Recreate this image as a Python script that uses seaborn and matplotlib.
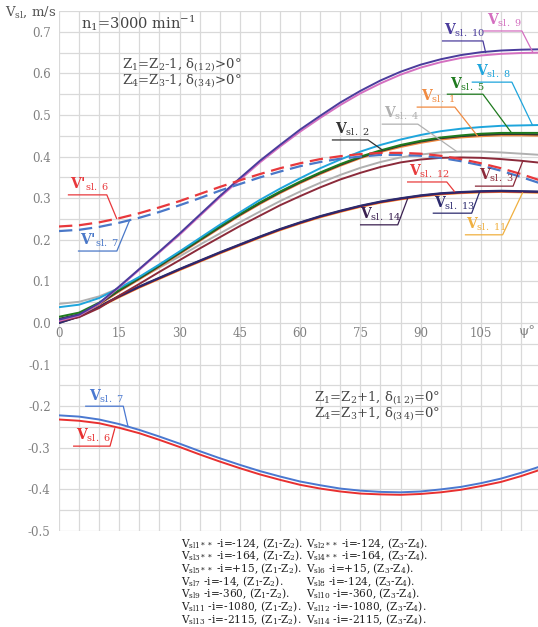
import numpy as np
import pandas as pd
import matplotlib
matplotlib.use("Agg")
import matplotlib.pyplot as plt
from matplotlib.ticker import MultipleLocator, FixedLocator
import seaborn as sns

# ---------------- data ----------------
psi = [0, 5, 10, 15, 20, 25, 30, 35, 40, 45, 50, 55, 60, 65, 70, 75, 80, 85, 90, 95, 100, 105, 110, 115, 120]

sl10 = [0.008, 0.020, 0.048, 0.088, 0.130, 0.172, 0.215, 0.260, 0.305, 0.348, 0.390, 0.428, 0.465, 0.498, 0.530, 0.558, 0.583, 0.604, 0.621, 0.634, 0.644, 0.651, 0.655, 0.657, 0.658]
sl9 = [0.005, 0.018, 0.046, 0.086, 0.128, 0.170, 0.212, 0.257, 0.302, 0.344, 0.386, 0.424, 0.460, 0.493, 0.524, 0.552, 0.576, 0.597, 0.614, 0.627, 0.637, 0.643, 0.647, 0.649, 0.650]
sl8 = [0.038, 0.044, 0.060, 0.084, 0.111, 0.141, 0.172, 0.204, 0.236, 0.266, 0.296, 0.323, 0.348, 0.372, 0.393, 0.412, 0.428, 0.441, 0.452, 0.461, 0.467, 0.471, 0.474, 0.475, 0.476]
sl5 = [0.015, 0.025, 0.049, 0.080, 0.109, 0.139, 0.170, 0.201, 0.232, 0.262, 0.290, 0.316, 0.340, 0.362, 0.382, 0.400, 0.415, 0.428, 0.438, 0.446, 0.451, 0.455, 0.457, 0.457, 0.457]
sl1 = [0.008, 0.019, 0.044, 0.076, 0.105, 0.135, 0.166, 0.197, 0.228, 0.258, 0.286, 0.312, 0.336, 0.358, 0.378, 0.396, 0.411, 0.423, 0.433, 0.441, 0.446, 0.449, 0.451, 0.451, 0.450]
sl2 = [0.010, 0.021, 0.046, 0.078, 0.107, 0.137, 0.168, 0.199, 0.230, 0.260, 0.288, 0.314, 0.338, 0.360, 0.380, 0.398, 0.413, 0.426, 0.436, 0.444, 0.449, 0.452, 0.454, 0.454, 0.453]
sl4 = [0.046, 0.051, 0.064, 0.084, 0.107, 0.133, 0.160, 0.188, 0.215, 0.242, 0.268, 0.293, 0.316, 0.337, 0.356, 0.373, 0.387, 0.398, 0.405, 0.410, 0.412, 0.412, 0.410, 0.407, 0.404]
sl3 = [0.005, 0.014, 0.036, 0.066, 0.094, 0.123, 0.151, 0.179, 0.206, 0.233, 0.258, 0.283, 0.305, 0.326, 0.345, 0.361, 0.375, 0.386, 0.393, 0.397, 0.398, 0.397, 0.394, 0.390, 0.385]
sl11 = [0.003, 0.016, 0.038, 0.062, 0.085, 0.106, 0.127, 0.147, 0.167, 0.186, 0.205, 0.223, 0.239, 0.254, 0.267, 0.279, 0.289, 0.297, 0.304, 0.309, 0.312, 0.314, 0.315, 0.314, 0.313]
sl12 = [0.002, 0.016, 0.039, 0.063, 0.086, 0.107, 0.128, 0.148, 0.168, 0.187, 0.206, 0.224, 0.240, 0.255, 0.268, 0.280, 0.290, 0.298, 0.305, 0.310, 0.313, 0.315, 0.316, 0.315, 0.314]
sl13 = [0.000, 0.016, 0.040, 0.065, 0.088, 0.109, 0.130, 0.150, 0.170, 0.189, 0.208, 0.226, 0.242, 0.257, 0.270, 0.282, 0.292, 0.300, 0.307, 0.312, 0.315, 0.317, 0.318, 0.317, 0.316]
sl14 = [0.000, 0.015, 0.039, 0.064, 0.087, 0.108, 0.129, 0.149, 0.169, 0.188, 0.207, 0.225, 0.241, 0.256, 0.269, 0.281, 0.291, 0.299, 0.306, 0.311, 0.314, 0.316, 0.317, 0.316, 0.315]
sl6_dash = [0.232, 0.235, 0.242, 0.252, 0.264, 0.278, 0.293, 0.310, 0.327, 0.343, 0.358, 0.372, 0.384, 0.394, 0.401, 0.406, 0.409, 0.409, 0.407, 0.402, 0.394, 0.384, 0.372, 0.358, 0.342]
sl7_dash = [0.221, 0.224, 0.231, 0.241, 0.253, 0.267, 0.283, 0.300, 0.318, 0.334, 0.350, 0.364, 0.377, 0.387, 0.395, 0.400, 0.404, 0.404, 0.402, 0.397, 0.389, 0.379, 0.366, 0.351, 0.335]
sl7_neg = [-0.222, -0.225, -0.232, -0.243, -0.257, -0.273, -0.290, -0.308, -0.325, -0.341, -0.356, -0.369, -0.381, -0.390, -0.398, -0.403, -0.406, -0.407, -0.405, -0.400, -0.394, -0.385, -0.374, -0.360, -0.344]
sl6_neg = [-0.232, -0.235, -0.241, -0.252, -0.265, -0.281, -0.298, -0.316, -0.333, -0.349, -0.364, -0.377, -0.389, -0.398, -0.405, -0.410, -0.412, -0.413, -0.411, -0.407, -0.401, -0.392, -0.382, -0.368, -0.352]

x_ticks = [0, 15, 30, 45, 60, 75, 90, 105]
y_ticks = [-0.5, -0.4, -0.3, -0.2, -0.1, 0.0, 0.1, 0.2, 0.3, 0.4, 0.5, 0.6, 0.7]

legend_left = [
    r"V$_{\rm sl1**}$ -i=-124, (Z$_1$-Z$_2$).",
    r"V$_{\rm sl3**}$ -i=-164, (Z$_1$-Z$_2$).",
    r"V$_{\rm sl5**}$ -i=+15, (Z$_1$-Z$_2$).",
    r"V$_{\rm sl7}$ -i=-14, (Z$_1$-Z$_2$).",
    r"V$_{\rm sl9}$ -i=-360, (Z$_1$-Z$_2$).",
    r"V$_{\rm sl11}$ -i=-1080, (Z$_1$-Z$_2$).",
    r"V$_{\rm sl13}$ -i=-2115, (Z$_1$-Z$_2$).",
]
legend_right = [
    r"V$_{\rm sl2**}$ -i=-124, (Z$_3$-Z$_4$).",
    r"V$_{\rm sl4**}$ -i=-164, (Z$_3$-Z$_4$).",
    r"V$_{\rm sl6}$ -i=+15, (Z$_3$-Z$_4$).",
    r"V$_{\rm sl8}$ -i=-124, (Z$_3$-Z$_4$).",
    r"V$_{\rm sl10}$ -i=-360, (Z$_3$-Z$_4$).",
    r"V$_{\rm sl12}$ -i=-1080, (Z$_3$-Z$_4$).",
    r"V$_{\rm sl14}$ -i=-2115, (Z$_3$-Z$_4$).",
]

# ---------------- style ----------------
sns.set_style("white")
plt.rcParams['font.family'] = ['DejaVu Serif', 'DejaVu Sans']
plt.rcParams['mathtext.fontset'] = 'dejavuserif'

fig = plt.figure(figsize=(5.38, 6.27), dpi=100)
ax = fig.add_axes([59/538, 96/627, 1 - 59/538, 520/627])

series = [
    (sl11, "#f0b040"),
    (sl12, "#e83c3c"),
    (sl14, "#3a2050"),
    (sl13, "#2c2a6e"),
    (sl3, "#8b2a3a"),
    (sl4, "#b0b0b0"),
    (sl1, "#f08a40"),
    (sl2, "#333333"),
    (sl5, "#1e7a1e"),
    (sl8, "#1ea5dc"),
    (sl9, "#d46fc0"),
    (sl10, "#4a3c9c"),
]
for vals, col in series:
    sns.lineplot(x=psi, y=vals, color=col, lw=1.4, ax=ax)

for vals, col in [(sl7_dash, "#4a78c8"), (sl6_dash, "#e8383c")]:
    sns.lineplot(x=psi, y=vals, color=col, lw=1.6, ax=ax)
    ax.lines[-1].set_dashes([6, 3])

sns.lineplot(x=psi, y=sl6_neg, color="#e83030", lw=1.4, ax=ax)
sns.lineplot(x=psi, y=sl7_neg, color="#4a78d0", lw=1.4, ax=ax)

ax.set_xlim(0, 119.2)
ax.set_ylim(-0.5, 0.75)
ax.xaxis.set_major_locator(FixedLocator(x_ticks))
ax.xaxis.set_minor_locator(MultipleLocator(5))
ax.yaxis.set_major_locator(FixedLocator(y_ticks))
ax.yaxis.set_minor_locator(MultipleLocator(0.05))
ax.set_yticklabels([f"{t:.1f}" for t in y_ticks])
ax.grid(True, which='both', color='#d9d9d9', lw=0.9)
ax.set_axisbelow(True)
for s in ax.spines.values():
    s.set_visible(False)
ax.spines['bottom'].set_position(('data', 0))
ax.tick_params(axis='both', which='both', length=0, labelsize=8.5, colors='#808080')
ax.tick_params(axis='x', pad=3)
ax.tick_params(axis='y', pad=6)
ax.set_xlabel("")
ax.set_ylabel("")
ax.text(116.3, -0.005, "ψ°", ha='center', va='top', fontsize=9.5, color='#808080')

fig.text(5/538, 1 - 12/627, r"V$_{\rm sl}$, m/s", ha='left', va='center', fontsize=9.5, color='#555555')

ax.text(5.5, 0.72, r"n$_1$=3000 min$^{-1}$", fontsize=10.5, color='#444444', va='center')
ax.text(15.8, 0.622, "Z$_1$=Z$_2$-1, δ$_{(1\\,2)}$>0°", fontsize=9.5, color='#444444', va='center')
ax.text(15.8, 0.582, "Z$_4$=Z$_3$-1, δ$_{(3\\,4)}$>0°", fontsize=9.5, color='#444444', va='center')
ax.text(63.5, -0.178, "Z$_1$=Z$_2$+1, δ$_{(1\\,2)}$=0°", fontsize=9.5, color='#444444', va='center')
ax.text(63.5, -0.217, "Z$_4$=Z$_3$+1, δ$_{(3\\,4)}$=0°", fontsize=9.5, color='#444444', va='center')


def lab(txt, col, x0, x1, y, xe, ye, bold_v=False):
    ax.plot([x0, x1, xe], [y, y, ye], color=col, lw=0.9, solid_capstyle='butt')
    ax.text((x0 + x1) / 2 + 0.5, y + 0.004, txt, color=col, ha='center', va='bottom', fontsize=10,
            fontweight='bold' if bold_v else 'normal')


def L(sub):
    return r"$\mathbf{V}_{\mathrm{sl.\ " + sub + r"}}$"


def LP(sub):
    return r"V'$_{\mathrm{sl.\ " + sub + r"}}$"


lab(L("10"), "#4a3c9c", 95.3, 105.5, 0.678, 106.2, 0.649)
lab(L("9"), "#d46fc0", 105.5, 115.2, 0.702, 117.9, 0.651)
lab(L("8"), "#1ea5dc", 102.7, 112.7, 0.579, 117.9, 0.474)
lab(L("5"), "#1e7a1e", 96.5, 105.5, 0.550, 112.7, 0.456)
lab(L("1"), "#f08a40", 89.0, 98.5, 0.519, 104.2, 0.449)
lab(L("4"), "#b0b0b0", 80.3, 89.3, 0.478, 99.0, 0.412)
lab(L("2"), "#333333", 67.9, 76.9, 0.440, 80.6, 0.415)
lab(L("12"), "#e83c3c", 86.6, 96.5, 0.339, 98.5, 0.315)
lab(L("3"), "#8b2a3a", 103.5, 113.0, 0.329, 115.4, 0.389)
lab(L("13"), "#2c2a6e", 93.0, 102.7, 0.264, 104.7, 0.316)
lab(L("14"), "#3a2050", 74.9, 84.3, 0.236, 86.8, 0.300)
lab(L("11"), "#f0b040", 101.0, 110.4, 0.212, 115.4, 0.314)
lab(LP("6"), "#e8383c", 2.2, 11.9, 0.308, 14.4, 0.250, bold_v=True)
lab(LP("7"), "#4a78c8", 4.7, 14.4, 0.173, 17.7, 0.250, bold_v=True)
lab(L("7"), "#4a78d0", 6.5, 16.0, -0.200, 17.2, -0.250)
lab(L("6"), "#e83030", 3.5, 12.7, -0.296, 13.9, -0.253)

y_top = 1 - 536/627
fig.text(181/538, y_top, "\n".join(legend_left), fontsize=7.6, color='#222222',
         va='top', ha='left', linespacing=0.82)
fig.text(306/538, y_top, "\n".join(legend_right), fontsize=7.6, color='#222222',
         va='top', ha='left', linespacing=0.82)

fig.savefig("out.png", dpi=100)
